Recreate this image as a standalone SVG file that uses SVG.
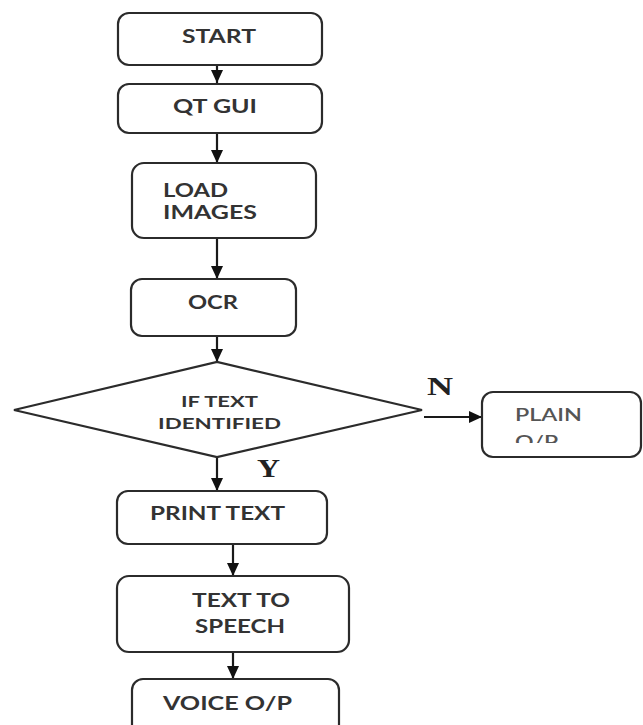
<svg xmlns="http://www.w3.org/2000/svg" width="643" height="725" viewBox="0 0 643 725">
<style>
.box{fill:#fff;stroke:#2b2b2b;stroke-width:2.2}
.t{font-family:Lato,"Liberation Sans",sans-serif;font-weight:700;fill:#333;font-size:18px}
.ts{font-family:Lato,"Liberation Sans",sans-serif;font-weight:700;fill:#333;font-size:14.5px}
.tp{font-family:Lato,"Liberation Sans",sans-serif;font-weight:600;fill:#555;font-size:18px}
.lbl{font-family:"Liberation Serif","Times New Roman",serif;font-weight:700;fill:#222;font-size:26px}
.c{stroke:#1a1a1a;stroke-width:2.2;fill:none}
</style>
<defs>
<marker id="ah" viewBox="0 0 13 12" refX="13" refY="6" markerWidth="13" markerHeight="12" markerUnits="userSpaceOnUse" orient="auto">
<path d="M0,0 L13,6 L0,12 z" fill="#111"/>
</marker>
<clipPath id="plainclip"><rect x="480" y="390" width="163" height="53"/></clipPath>
</defs>
<rect width="643" height="725" fill="#fff"/>
<g id="connectors">
<line class="c" x1="217" y1="65" x2="217" y2="83" marker-end="url(#ah)"/>
<line class="c" x1="217" y1="133" x2="217" y2="163" marker-end="url(#ah)"/>
<line class="c" x1="217" y1="238" x2="217" y2="279" marker-end="url(#ah)"/>
<line class="c" x1="217" y1="336" x2="217" y2="362" marker-end="url(#ah)"/>
<line class="c" x1="424" y1="417" x2="482" y2="417" marker-end="url(#ah)"/>
<line class="c" x1="217" y1="457" x2="217" y2="491" marker-end="url(#ah)"/>
<line class="c" x1="233" y1="544" x2="233" y2="576" marker-end="url(#ah)"/>
<line class="c" x1="233" y1="652" x2="233" y2="679" marker-end="url(#ah)"/>
<text class="lbl" x="427" y="395" textLength="26" lengthAdjust="spacingAndGlyphs">N</text>
<text class="lbl" x="257" y="477" textLength="23" lengthAdjust="spacingAndGlyphs">Y</text>
</g>
<g id="start">
<rect class="box" x="118" y="13" width="204" height="52" rx="11"/>
<text class="t" x="182" y="43" textLength="74" lengthAdjust="spacingAndGlyphs">START</text>
</g>
<g id="qtgui">
<rect class="box" x="118" y="84" width="204" height="49" rx="11"/>
<text class="t" x="173" y="113" textLength="84" lengthAdjust="spacingAndGlyphs">QT GUI</text>
</g>
<g id="load">
<rect class="box" x="132" y="163" width="184" height="75" rx="12"/>
<text class="t" x="163" y="197" textLength="65" lengthAdjust="spacingAndGlyphs">LOAD</text>
<text class="t" x="163" y="219" textLength="94" lengthAdjust="spacingAndGlyphs">IMAGES</text>
</g>
<g id="ocr">
<rect class="box" x="131" y="279" width="165" height="57" rx="11"/>
<text class="t" x="188" y="309" textLength="50" lengthAdjust="spacingAndGlyphs">OCR</text>
</g>
<g id="decision">
<polygon class="box" points="14,410 217,362 422,410 217,457"/>
<text class="ts" x="181" y="407" textLength="77" lengthAdjust="spacingAndGlyphs">IF TEXT</text>
<text class="ts" x="158" y="429" textLength="123" lengthAdjust="spacingAndGlyphs">IDENTIFIED</text>
</g>
<g id="plain">
<rect class="box" x="482" y="392" width="159" height="65" rx="11"/>
<text class="tp" x="515" y="421" textLength="67" lengthAdjust="spacingAndGlyphs">PLAIN</text>
<text class="tp" x="515" y="448" textLength="43" lengthAdjust="spacingAndGlyphs" clip-path="url(#plainclip)">O/P</text>
</g>
<g id="print">
<rect class="box" x="117" y="491" width="210" height="53" rx="11"/>
<text class="t" x="150" y="520" textLength="135" lengthAdjust="spacingAndGlyphs">PRINT TEXT</text>
</g>
<g id="tts">
<rect class="box" x="117" y="576" width="232" height="76" rx="12"/>
<text class="t" x="192" y="607" textLength="98" lengthAdjust="spacingAndGlyphs">TEXT TO</text>
<text class="t" x="195" y="633" textLength="90" lengthAdjust="spacingAndGlyphs">SPEECH</text>
</g>
<g id="voice">
<rect class="box" x="132" y="679" width="207" height="70" rx="11"/>
<text class="t" x="163" y="710" textLength="129" lengthAdjust="spacingAndGlyphs">VOICE O/P</text>
</g>
</svg>
